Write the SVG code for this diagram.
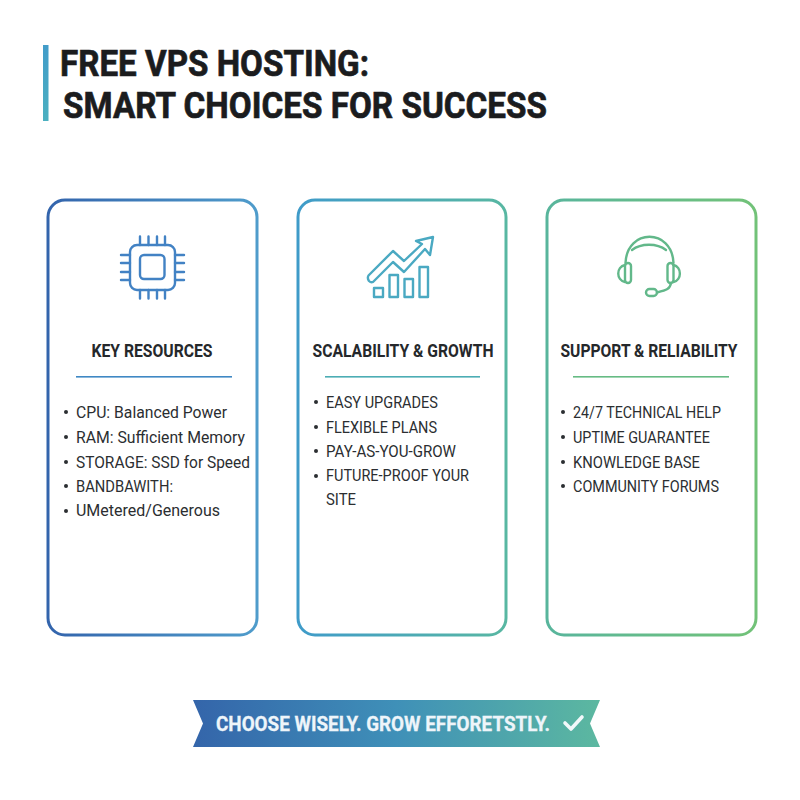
<svg xmlns="http://www.w3.org/2000/svg" width="800" height="800" viewBox="0 0 800 800">
<style>
text{font-family:Roboto,"Liberation Sans",sans-serif}
.title{font-size:37px;font-weight:700;fill:#1b1c1e;stroke:#1b1c1e;stroke-width:.7}
.head{font-size:18.5px;font-weight:700;fill:#25282b;text-anchor:middle}
.item{font-size:17px;font-weight:400;fill:#2b2e31}
.card{fill:#fff;stroke-width:3}
.icon{fill:none;stroke-width:2.400;stroke-linecap:round;stroke-linejoin:round}
.dot{fill:#2b2e31}
</style>
<defs>
<linearGradient id="g1" gradientUnits="userSpaceOnUse" x1="48" y1="400" x2="257" y2="400"><stop offset="0" stop-color="#3364ac"/><stop offset="1" stop-color="#4f9ccb"/></linearGradient>
<linearGradient id="g2" gradientUnits="userSpaceOnUse" x1="298" y1="400" x2="506" y2="400"><stop offset="0" stop-color="#3f9bc9"/><stop offset="1" stop-color="#58b7a2"/></linearGradient>
<linearGradient id="g3" gradientUnits="userSpaceOnUse" x1="547" y1="400" x2="756" y2="400"><stop offset="0" stop-color="#58b59c"/><stop offset="1" stop-color="#72c278"/></linearGradient>
<linearGradient id="gb" gradientUnits="userSpaceOnUse" x1="193" y1="723" x2="600" y2="723"><stop offset="0" stop-color="#3465aa"/><stop offset="0.5" stop-color="#3f90b8"/><stop offset="1" stop-color="#5cb8a0"/></linearGradient>
<linearGradient id="gt" x1="0" y1="0" x2="0" y2="1"><stop offset="0" stop-color="#429cc9"/><stop offset="1" stop-color="#4bb0c0"/></linearGradient>
</defs>
<rect width="800" height="800" fill="#fff"/>
<g id="title">
<rect x="43" y="45" width="5.500" height="76" fill="url(#gt)"/>
<text class="title" x="60" y="76" textLength="309" lengthAdjust="spacingAndGlyphs">FREE VPS HOSTING:</text>
<text class="title" x="63" y="118" textLength="484" lengthAdjust="spacingAndGlyphs">SMART CHOICES FOR SUCCESS</text>
</g>
<g id="card-resources">
<rect class="card" x="48" y="200" width="209" height="435" rx="17" stroke="url(#g1)"/>
<g class="icon" stroke="#4282c4">
<rect x="130" y="245" width="45" height="45" rx="7"/>
<rect x="140" y="255" width="24.500" height="24" rx="4"/>
<path d="M140 236.500v8.500M148.500 236.500v8.500M157 236.500v8.500M165 236.500v8.500M140 290v8.500M148.500 290v8.500M157 290v8.500M165 290v8.500M121 255h9M121 263h9M121 272h9M121 280h9M175 255h9M175 263h9M175 272h9M175 280h9"/>
</g>
<text class="head" x="152" y="357" textLength="121" lengthAdjust="spacingAndGlyphs">KEY RESOURCES</text>
<rect x="76" y="376" width="156" height="1.600" fill="#3f88c4"/>
<circle class="dot" cx="66" cy="412" r="2"/><text class="item" x="76" y="418" textLength="151" lengthAdjust="spacingAndGlyphs">CPU: Balanced Power</text>
<circle class="dot" cx="66" cy="437" r="2"/><text class="item" x="76" y="443" textLength="169" lengthAdjust="spacingAndGlyphs">RAM: Sufficient Memory</text>
<circle class="dot" cx="66" cy="462" r="2"/><text class="item" x="76" y="468" textLength="174" lengthAdjust="spacingAndGlyphs">STORAGE: SSD for Speed</text>
<circle class="dot" cx="66" cy="486" r="2"/><text class="item" x="76" y="492" textLength="97" lengthAdjust="spacingAndGlyphs">BANDBAWITH:</text>
<circle class="dot" cx="66" cy="511" r="2"/><text class="item" x="76" y="516" textLength="144" lengthAdjust="spacingAndGlyphs">UMetered/Generous</text>
</g>
<g id="card-scalability">
<rect class="card" x="298" y="200" width="208" height="435" rx="17" stroke="url(#g2)"/>
<g class="icon" stroke="#4aa9c2">
<path d="M368.500 275.500L393 251 404 261 422 244 416 241 433 237 430 255 425 249 404 272 393 262 373 282Q371 283 369 281 367 278 368.500 275.500z"/>
<rect x="374" y="288" width="9" height="9"/>
<rect x="389.500" y="275" width="8.500" height="22"/>
<rect x="404.500" y="279" width="8.500" height="18"/>
<rect x="419.500" y="267" width="8.500" height="30"/>
</g>
<text class="head" x="403" y="357" textLength="181" lengthAdjust="spacingAndGlyphs">SCALABILITY &amp; GROWTH</text>
<rect x="325" y="376" width="155" height="1.600" fill="#4cadb4"/>
<circle class="dot" cx="316" cy="402" r="2"/><text class="item" x="326" y="408" textLength="112" lengthAdjust="spacingAndGlyphs">EASY UPGRADES</text>
<circle class="dot" cx="316" cy="427" r="2"/><text class="item" x="326" y="433" textLength="111" lengthAdjust="spacingAndGlyphs">FLEXIBLE PLANS</text>
<circle class="dot" cx="316" cy="451" r="2"/><text class="item" x="326" y="457" textLength="130" lengthAdjust="spacingAndGlyphs">PAY-AS-YOU-GROW</text>
<circle class="dot" cx="316" cy="476" r="2"/><text class="item" x="326" y="481" textLength="143" lengthAdjust="spacingAndGlyphs">FUTURE-PROOF YOUR</text>
<text class="item" x="326" y="505" textLength="30" lengthAdjust="spacingAndGlyphs">SITE</text>
</g>
<g id="card-support">
<rect class="card" x="547" y="200" width="209" height="435" rx="17" stroke="url(#g3)"/>
<g class="icon" stroke="#62b88a">
<path d="M625.500 263C627 228 672 228 673.500 263"/>
<path d="M632 250C641 243 657 243 666 250"/>
<rect x="625" y="263" width="6" height="20" rx="3"/>
<rect x="667.500" y="263" width="6" height="20" rx="3"/>
<path d="M625 265C616 267 616 280 625 282M673.500 265C682 267 682 280 673.500 282"/>
<path d="M671 283C670 289 667 290 657 292.500"/>
<rect x="646" y="289" width="11" height="7" rx="3.500"/>
</g>
<text class="head" x="649" y="357" textLength="177" lengthAdjust="spacingAndGlyphs">SUPPORT &amp; RELIABILITY</text>
<rect x="573" y="376" width="156" height="1.600" fill="#66bb84"/>
<circle class="dot" cx="563" cy="412" r="2"/><text class="item" x="573" y="418" textLength="148" lengthAdjust="spacingAndGlyphs">24/7 TECHNICAL HELP</text>
<circle class="dot" cx="563" cy="437" r="2"/><text class="item" x="573" y="443" textLength="137" lengthAdjust="spacingAndGlyphs">UPTIME GUARANTEE</text>
<circle class="dot" cx="563" cy="462" r="2"/><text class="item" x="573" y="468" textLength="127" lengthAdjust="spacingAndGlyphs">KNOWLEDGE BASE</text>
<circle class="dot" cx="563" cy="486" r="2"/><text class="item" x="573" y="492" textLength="146" lengthAdjust="spacingAndGlyphs">COMMUNITY FORUMS</text>
</g>
<g id="banner">
<path d="M193 700H600L590 723.500 600 747H193L203 723.500z" fill="url(#gb)"/>
<text x="216" y="731" font-size="21" font-weight="700" fill="#eef5fa" stroke="#eef5fa" stroke-width=".3" textLength="334" lengthAdjust="spacingAndGlyphs">CHOOSE WISELY. GROW EFFORETSTLY.</text>
<path d="M565 723l6 6 11-12" fill="none" stroke="#f2f8fa" stroke-width="3.600" stroke-linecap="round" stroke-linejoin="round"/>
</g>
</svg>
